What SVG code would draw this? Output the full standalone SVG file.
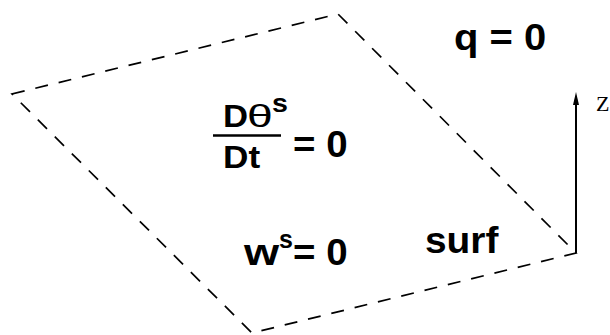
<svg xmlns="http://www.w3.org/2000/svg" width="610" height="335" viewBox="0 0 610 335">
<style>
.b{font-family:"Liberation Sans",Arial,sans-serif;font-weight:bold;fill:#000}
.th{font-family:"Liberation Sans",Arial,sans-serif;font-weight:normal;fill:#000}
.edge{fill:none;stroke:#000;stroke-width:1.7;stroke-dasharray:13 11}
</style>
<rect width="610" height="335" fill="#fff"/>
<g id="surface">
<polygon class="edge" points="12,94 338,14 576,253 252,333"/>
</g>
<g id="labels">
<text class="b" font-size="37" transform="translate(454 50) scale(1.08 1)">q = 0</text>
<g id="fraction">
<text class="b" font-size="31" transform="translate(223 127) scale(1.12 1)">D</text>
<text class="th" font-size="32" transform="translate(247 127) scale(1.45 1)">θ</text>
<text class="b" font-size="26" transform="translate(272 112) scale(1.1 1)">s</text>
<line x1="213" y1="135.5" x2="281" y2="135.5" stroke="#000" stroke-width="2.4"/>
<text class="b" font-size="32" transform="translate(223 168) scale(1.1 1)">Dt</text>
<text class="b" font-size="37" transform="translate(293 157) scale(1.04 1)">= 0</text>
</g>
<g id="ws">
<text class="b" font-size="37" transform="translate(244 265) scale(1.22 1)">w</text>
<text class="b" font-size="25" transform="translate(279 248)">s</text>
<text class="b" font-size="37" transform="translate(293 265) scale(1.04 1)">= 0</text>
</g>
<text class="b" font-size="37" transform="translate(425 253) scale(1.05 1)">surf</text>
</g>
<g id="connectors">
<line x1="576" y1="253" x2="576" y2="104" stroke="#000" stroke-width="2"/>
<polygon points="576,92 573,105 579,105" fill="#000"/>
</g>
<text x="596" y="111" font-family="'Liberation Serif','Times New Roman',serif" font-size="22" fill="#000">Z</text>
</svg>
